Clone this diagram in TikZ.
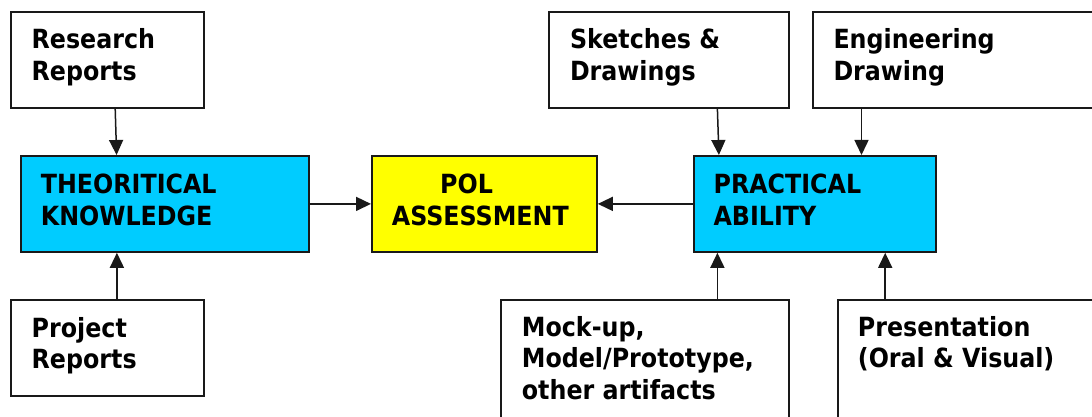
\documentclass[tikz,border=0pt]{standalone}
\usepackage{fontspec}
\setmainfont{DejaVu Sans}[FakeStretch=0.9]
\usetikzlibrary{arrows.meta}

\definecolor{boxcyan}{RGB}{0,204,255}
\definecolor{boxyellow}{RGB}{255,255,0}
\definecolor{edge}{RGB}{25,25,25}

% stacked lines whose baseline is the baseline of the first line
\newcommand\boxlines[1]{\vtop{\baselineskip=31.7pt\lineskiplimit=-100pt\halign{##\hfil\cr#1\crcr}}}

\tikzset{
  panel/.style={draw=edge, line width=1.8pt, rectangle, inner sep=0pt,
                anchor=north west, minimum height=96pt},
  label/.style={anchor=base west, inner sep=0pt,
                font=\fontsize{26.4}{31.7}\selectfont\bfseries},
  arr/.style={draw=edge, line width=1.5pt, -{Triangle[length=15pt,width=14pt]}}
}

\begin{document}
\begin{tikzpicture}[x=1pt,y=-1pt]
\useasboundingbox (0,0) rectangle (1092,417);

% boxes
\node[panel, minimum width=193pt] (rr) at (10,11) {};
\node[panel, minimum width=193pt] (pr) at (10,299) {};
\node[panel, minimum width=288pt, fill=boxcyan] (th) at (20,155) {};
\node[panel, minimum width=225pt, fill=boxyellow] (pol) at (371,155) {};
\node[panel, minimum width=242pt, fill=boxcyan] (pa) at (692.7,155) {};
\node[panel, minimum width=240pt] (sk) at (548,11) {};
\node[panel, minimum width=300pt] (en) at (812.3,11) {};
\node[panel, minimum width=288pt, minimum height=140pt] (mu) at (500,299) {};
\node[panel, minimum width=280pt, minimum height=140pt] (pt) at (836.7,299) {};

% texts
\node[label] (rrt) at ([shift={(21.5,38)}]rr.north west) {\boxlines{Research\cr Reports}};
\node[label] (prt) at ([shift={(21.5,38)}]pr.north west) {\boxlines{Project\cr Reports}};
\node[label] (tht) at ([shift={(20.7,38.3)}]th.north west) {\boxlines{THEORITICAL\cr KNOWLEDGE}};
\node[label] (polt) at ([shift={(20.7,38.3)}]pol.north west) {\boxlines{\hskip48.3pt POL\cr ASSESSMENT}};
\node[label] (pat) at ([shift={(20.7,38.3)}]pa.north west) {\boxlines{PRACTICAL\cr ABILITY}};
\node[label] (skt) at ([shift={(21.8,38)}]sk.north west) {\boxlines{Sketches \&\cr Drawings}};
\node[label] (ent) at ([shift={(21,38)}]en.north west) {\boxlines{Engineering\cr Drawing}};
\node[label] (mut) at ([shift={(21.7,37)}]mu.north west) {\boxlines{Mock-up,\cr Model/Prototype,\cr other artifacts}};
\node[label] (ptt) at ([shift={(21,37)}]pt.north west) {\boxlines{Presentation\cr (Oral \& Visual)}};

% connectors
\draw[arr] ([xshift=7.8pt]rr.south) -- ([xshift=-48.3pt]th.north);
\draw[arr] ([xshift=-48pt]th.south |- pr.north) -- ([xshift=-48pt]th.south);
\draw[arr] (th.east) -- (pol.west);
\draw[arr] (pa.west) -- (pol.east);
\draw[arr] ([xshift=48.5pt]sk.south) -- ([xshift=-95.7pt]pa.north);
\draw[arr] ([xshift=46.9pt]pa.north |- en.south) -- ([xshift=46.9pt]pa.north);
\draw[arr] ([xshift=-97.2pt]pa.south |- mu.north) -- ([xshift=-97.2pt]pa.south);
\draw[arr] ([xshift=70.6pt]pa.south |- pt.north) -- ([xshift=70.6pt]pa.south);
\end{tikzpicture}
\end{document}
